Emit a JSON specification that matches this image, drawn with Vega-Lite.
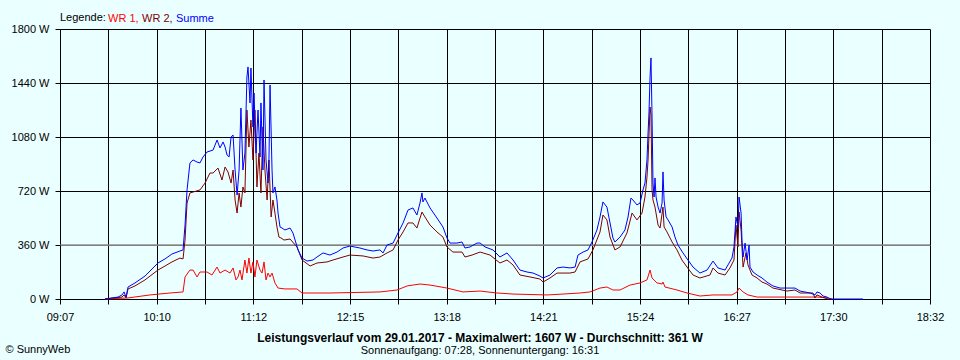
{
"$schema": "https://vega.github.io/schema/vega-lite/v6.json",
"width": 870, "height": 270,
"autosize": {"type": "none"},
"padding": {"left": 60, "top": 29, "right": 30, "bottom": 61},
"background": "#EAFFFF",
"config": {
  "font": "Liberation Sans",
  "view": {"stroke": null},
  "axis": {"labelFont": "Liberation Sans", "labelFontSize": 11, "labelColor": "black", "tickColor": "black", "domainColor": "black", "gridColor": "black", "gridOpacity": 1, "tickSize": 5, "grid": true, "domainWidth": 1, "gridWidth": 1, "tickWidth": 1}
},
"title": {"text": "Leistungsverlauf vom 29.01.2017 - Maximalwert: 1607 W - Durchschnitt: 361 W", "subtitle": "Sonnenaufgang: 07:28, Sonnenuntergang: 16:31", "orient": "bottom", "anchor": "middle", "frame": "group", "dx": -15, "offset": -21, "font": "Liberation Sans", "fontSize": 12, "fontWeight": "bold", "color": "black", "subtitleFont": "Liberation Sans", "subtitleFontSize": 11, "subtitleColor": "black", "subtitlePadding": 0},
"layer": [
{
 "data": {"values": [{"avg": 361}]},
 "mark": {"type": "rule", "color": "#808080", "strokeWidth": 1},
 "encoding": {
  "y": {"field": "avg", "type": "quantitative", "scale": {"domain": [0, 1800], "nice": false}, "axis": {"values": [0, 360, 720, 1080, 1440, 1800], "labelExpr": "datum.value + ' W'", "title": null, "labelPadding": 6, "gridColor": {"condition": {"test": "datum.value == 360", "value": "#808080"}, "value": "black"}}}
 }
},
{
 "data": {"values": [
{"t":576.2,"s":"WR 1","w":0},{"t":591.2,"s":"WR 1","w":7},{"t":605.4,"s":"WR 1","w":27},{"t":618.4,"s":"WR 1","w":40},{"t":626.9,"s":"WR 1","w":47},{"t":628.2,"s":"WR 1","w":147},{"t":631.4,"s":"WR 1","w":193},{"t":633.4,"s":"WR 1","w":193},{"t":636.0,"s":"WR 1","w":147},{"t":637.9,"s":"WR 1","w":180},{"t":642.5,"s":"WR 1","w":180},{"t":645.7,"s":"WR 1","w":160},{"t":649.0,"s":"WR 1","w":213},{"t":650.9,"s":"WR 1","w":173},{"t":654.2,"s":"WR 1","w":193},{"t":657.4,"s":"WR 1","w":173},{"t":659.4,"s":"WR 1","w":207},{"t":661.3,"s":"WR 1","w":127},{"t":662.6,"s":"WR 1","w":147},{"t":663.9,"s":"WR 1","w":193},{"t":665.2,"s":"WR 1","w":127},{"t":667.1,"s":"WR 1","w":260},{"t":668.4,"s":"WR 1","w":173},{"t":669.7,"s":"WR 1","w":273},{"t":671.0,"s":"WR 1","w":173},{"t":672.3,"s":"WR 1","w":247},{"t":673.6,"s":"WR 1","w":147},{"t":674.9,"s":"WR 1","w":260},{"t":676.9,"s":"WR 1","w":193},{"t":678.2,"s":"WR 1","w":173},{"t":679.5,"s":"WR 1","w":247},{"t":680.8,"s":"WR 1","w":127},{"t":682.1,"s":"WR 1","w":173},{"t":683.4,"s":"WR 1","w":147},{"t":684.7,"s":"WR 1","w":173},{"t":686.6,"s":"WR 1","w":107},{"t":688.6,"s":"WR 1","w":73},{"t":693.1,"s":"WR 1","w":67},{"t":700.9,"s":"WR 1","w":67},{"t":704.2,"s":"WR 1","w":40},{"t":722.3,"s":"WR 1","w":40},{"t":754.8,"s":"WR 1","w":47},{"t":765.9,"s":"WR 1","w":60},{"t":772.4,"s":"WR 1","w":87},{"t":780.8,"s":"WR 1","w":100},{"t":787.3,"s":"WR 1","w":93},{"t":798.3,"s":"WR 1","w":73},{"t":808.7,"s":"WR 1","w":47},{"t":819.8,"s":"WR 1","w":53},{"t":830.8,"s":"WR 1","w":40},{"t":841.2,"s":"WR 1","w":33},{"t":863.3,"s":"WR 1","w":27},{"t":873.7,"s":"WR 1","w":33},{"t":884.7,"s":"WR 1","w":40},{"t":891.2,"s":"WR 1","w":47},{"t":897.7,"s":"WR 1","w":73},{"t":902.2,"s":"WR 1","w":80},{"t":906.1,"s":"WR 1","w":60},{"t":910.7,"s":"WR 1","w":60},{"t":917.2,"s":"WR 1","w":93},{"t":923.7,"s":"WR 1","w":107},{"t":928.2,"s":"WR 1","w":127},{"t":930.2,"s":"WR 1","w":193},{"t":931.5,"s":"WR 1","w":140},{"t":934.7,"s":"WR 1","w":107},{"t":938.0,"s":"WR 1","w":100},{"t":938.6,"s":"WR 1","w":113},{"t":939.9,"s":"WR 1","w":80},{"t":947.7,"s":"WR 1","w":60},{"t":954.2,"s":"WR 1","w":40},{"t":962.6,"s":"WR 1","w":20},{"t":971.1,"s":"WR 1","w":27},{"t":983.4,"s":"WR 1","w":27},{"t":986.7,"s":"WR 1","w":47},{"t":988.0,"s":"WR 1","w":73},{"t":990.6,"s":"WR 1","w":47},{"t":993.8,"s":"WR 1","w":27},{"t":999.7,"s":"WR 1","w":13},{"t":1038.6,"s":"WR 1","w":13},{"t":1045.8,"s":"WR 1","w":7},{"t":1048.4,"s":"WR 1","w":0},
{"t":576.2,"s":"WR 2","w":0},{"t":587.3,"s":"WR 2","w":13},{"t":588.6,"s":"WR 2","w":27},{"t":589.9,"s":"WR 2","w":7},{"t":591.2,"s":"WR 2","w":67},{"t":595.7,"s":"WR 2","w":87},{"t":602.2,"s":"WR 2","w":127},{"t":610.6,"s":"WR 2","w":193},{"t":615.2,"s":"WR 2","w":220},{"t":619.7,"s":"WR 2","w":247},{"t":624.9,"s":"WR 2","w":273},{"t":626.9,"s":"WR 2","w":267},{"t":628.2,"s":"WR 2","w":393},{"t":629.5,"s":"WR 2","w":640},{"t":631.4,"s":"WR 2","w":707},{"t":633.4,"s":"WR 2","w":713},{"t":637.9,"s":"WR 2","w":727},{"t":641.2,"s":"WR 2","w":773},{"t":644.4,"s":"WR 2","w":840},{"t":646.4,"s":"WR 2","w":840},{"t":649.6,"s":"WR 2","w":873},{"t":652.2,"s":"WR 2","w":793},{"t":654.2,"s":"WR 2","w":880},{"t":656.1,"s":"WR 2","w":847},{"t":658.1,"s":"WR 2","w":773},{"t":659.4,"s":"WR 2","w":860},{"t":660.7,"s":"WR 2","w":660},{"t":662.0,"s":"WR 2","w":573},{"t":663.3,"s":"WR 2","w":707},{"t":664.5,"s":"WR 2","w":613},{"t":665.8,"s":"WR 2","w":747},{"t":667.1,"s":"WR 2","w":707},{"t":668.4,"s":"WR 2","w":1260},{"t":669.7,"s":"WR 2","w":1013},{"t":671.0,"s":"WR 2","w":1193},{"t":672.3,"s":"WR 2","w":927},{"t":673.6,"s":"WR 2","w":1260},{"t":674.9,"s":"WR 2","w":747},{"t":676.2,"s":"WR 2","w":973},{"t":677.5,"s":"WR 2","w":707},{"t":678.8,"s":"WR 2","w":1147},{"t":680.1,"s":"WR 2","w":860},{"t":681.5,"s":"WR 2","w":660},{"t":682.7,"s":"WR 2","w":927},{"t":684.1,"s":"WR 2","w":547},{"t":685.3,"s":"WR 2","w":660},{"t":686.6,"s":"WR 2","w":573},{"t":687.9,"s":"WR 2","w":480},{"t":689.2,"s":"WR 2","w":413},{"t":690.5,"s":"WR 2","w":407},{"t":692.5,"s":"WR 2","w":393},{"t":696.4,"s":"WR 2","w":400},{"t":700.9,"s":"WR 2","w":347},{"t":704.2,"s":"WR 2","w":260},{"t":709.4,"s":"WR 2","w":220},{"t":713.9,"s":"WR 2","w":240},{"t":720.4,"s":"WR 2","w":247},{"t":724.3,"s":"WR 2","w":260},{"t":730.8,"s":"WR 2","w":280},{"t":735.3,"s":"WR 2","w":293},{"t":743.8,"s":"WR 2","w":287},{"t":750.3,"s":"WR 2","w":273},{"t":754.8,"s":"WR 2","w":280},{"t":759.4,"s":"WR 2","w":307},{"t":763.3,"s":"WR 2","w":327},{"t":766.5,"s":"WR 2","w":393},{"t":769.8,"s":"WR 2","w":447},{"t":773.0,"s":"WR 2","w":507},{"t":776.2,"s":"WR 2","w":507},{"t":778.8,"s":"WR 2","w":473},{"t":780.8,"s":"WR 2","w":540},{"t":782.1,"s":"WR 2","w":580},{"t":784.0,"s":"WR 2","w":547},{"t":787.3,"s":"WR 2","w":493},{"t":791.8,"s":"WR 2","w":447},{"t":795.7,"s":"WR 2","w":413},{"t":798.3,"s":"WR 2","w":347},{"t":802.2,"s":"WR 2","w":313},{"t":808.1,"s":"WR 2","w":313},{"t":810.0,"s":"WR 2","w":280},{"t":814.6,"s":"WR 2","w":293},{"t":819.8,"s":"WR 2","w":313},{"t":826.3,"s":"WR 2","w":293},{"t":832.7,"s":"WR 2","w":240},{"t":837.3,"s":"WR 2","w":260},{"t":841.2,"s":"WR 2","w":227},{"t":845.7,"s":"WR 2","w":160},{"t":852.2,"s":"WR 2","w":147},{"t":858.7,"s":"WR 2","w":133},{"t":860.7,"s":"WR 2","w":113},{"t":865.2,"s":"WR 2","w":140},{"t":869.8,"s":"WR 2","w":173},{"t":878.2,"s":"WR 2","w":173},{"t":881.5,"s":"WR 2","w":180},{"t":884.7,"s":"WR 2","w":247},{"t":889.9,"s":"WR 2","w":267},{"t":893.1,"s":"WR 2","w":327},{"t":897.7,"s":"WR 2","w":447},{"t":899.6,"s":"WR 2","w":560},{"t":902.2,"s":"WR 2","w":527},{"t":904.2,"s":"WR 2","w":413},{"t":907.4,"s":"WR 2","w":327},{"t":910.7,"s":"WR 2","w":347},{"t":915.2,"s":"WR 2","w":440},{"t":918.5,"s":"WR 2","w":573},{"t":921.7,"s":"WR 2","w":527},{"t":925.0,"s":"WR 2","w":573},{"t":926.9,"s":"WR 2","w":680},{"t":928.2,"s":"WR 2","w":813},{"t":928.9,"s":"WR 2","w":927},{"t":930.2,"s":"WR 2","w":1280},{"t":930.8,"s":"WR 2","w":1227},{"t":931.5,"s":"WR 2","w":727},{"t":932.1,"s":"WR 2","w":660},{"t":933.4,"s":"WR 2","w":613},{"t":935.4,"s":"WR 2","w":493},{"t":936.7,"s":"WR 2","w":473},{"t":938.6,"s":"WR 2","w":613},{"t":939.3,"s":"WR 2","w":480},{"t":941.2,"s":"WR 2","w":447},{"t":944.5,"s":"WR 2","w":380},{"t":947.7,"s":"WR 2","w":327},{"t":950.9,"s":"WR 2","w":260},{"t":954.2,"s":"WR 2","w":213},{"t":958.1,"s":"WR 2","w":160},{"t":962.6,"s":"WR 2","w":140},{"t":969.1,"s":"WR 2","w":160},{"t":971.1,"s":"WR 2","w":207},{"t":974.3,"s":"WR 2","w":173},{"t":978.9,"s":"WR 2","w":160},{"t":982.1,"s":"WR 2","w":207},{"t":984.7,"s":"WR 2","w":260},{"t":986.0,"s":"WR 2","w":493},{"t":987.3,"s":"WR 2","w":347},{"t":988.0,"s":"WR 2","w":580},{"t":989.3,"s":"WR 2","w":460},{"t":990.6,"s":"WR 2","w":213},{"t":992.5,"s":"WR 2","w":307},{"t":993.8,"s":"WR 2","w":227},{"t":996.4,"s":"WR 2","w":160},{"t":999.7,"s":"WR 2","w":140},{"t":1002.9,"s":"WR 2","w":113},{"t":1006.1,"s":"WR 2","w":100},{"t":1010.0,"s":"WR 2","w":73},{"t":1019.1,"s":"WR 2","w":53},{"t":1024.3,"s":"WR 2","w":60},{"t":1027.6,"s":"WR 2","w":40},{"t":1036.0,"s":"WR 2","w":40},{"t":1037.3,"s":"WR 2","w":7},{"t":1038.6,"s":"WR 2","w":27},{"t":1041.9,"s":"WR 2","w":13},{"t":1045.8,"s":"WR 2","w":0},
{"t":576.2,"s":"Summe","w":0},{"t":584.7,"s":"Summe","w":13},{"t":587.3,"s":"Summe","w":27},{"t":588.6,"s":"Summe","w":47},{"t":589.9,"s":"Summe","w":13},{"t":591.2,"s":"Summe","w":80},{"t":595.7,"s":"Summe","w":107},{"t":602.2,"s":"Summe","w":153},{"t":610.6,"s":"Summe","w":240},{"t":615.2,"s":"Summe","w":267},{"t":619.7,"s":"Summe","w":300},{"t":624.9,"s":"Summe","w":320},{"t":626.9,"s":"Summe","w":327},{"t":628.2,"s":"Summe","w":493},{"t":629.5,"s":"Summe","w":727},{"t":631.4,"s":"Summe","w":907},{"t":633.4,"s":"Summe","w":927},{"t":636.0,"s":"Summe","w":913},{"t":637.9,"s":"Summe","w":907},{"t":639.9,"s":"Summe","w":947},{"t":642.5,"s":"Summe","w":980},{"t":646.4,"s":"Summe","w":993},{"t":649.0,"s":"Summe","w":1060},{"t":650.9,"s":"Summe","w":1007},{"t":652.9,"s":"Summe","w":1047},{"t":654.2,"s":"Summe","w":1013},{"t":655.5,"s":"Summe","w":960},{"t":656.8,"s":"Summe","w":947},{"t":658.1,"s":"Summe","w":1080},{"t":659.4,"s":"Summe","w":1093},{"t":660.7,"s":"Summe","w":860},{"t":662.0,"s":"Summe","w":693},{"t":663.3,"s":"Summe","w":860},{"t":664.5,"s":"Summe","w":1273},{"t":665.8,"s":"Summe","w":860},{"t":667.1,"s":"Summe","w":973},{"t":668.4,"s":"Summe","w":1480},{"t":669.1,"s":"Summe","w":1547},{"t":670.4,"s":"Summe","w":1307},{"t":671.0,"s":"Summe","w":1540},{"t":672.3,"s":"Summe","w":1147},{"t":673.0,"s":"Summe","w":1373},{"t":674.3,"s":"Summe","w":973},{"t":675.6,"s":"Summe","w":1260},{"t":676.9,"s":"Summe","w":947},{"t":677.5,"s":"Summe","w":1307},{"t":678.8,"s":"Summe","w":860},{"t":679.5,"s":"Summe","w":1460},{"t":680.8,"s":"Summe","w":927},{"t":682.1,"s":"Summe","w":773},{"t":682.7,"s":"Summe","w":927},{"t":683.4,"s":"Summe","w":1427},{"t":684.7,"s":"Summe","w":860},{"t":685.3,"s":"Summe","w":707},{"t":686.6,"s":"Summe","w":747},{"t":687.9,"s":"Summe","w":660},{"t":688.6,"s":"Summe","w":573},{"t":689.9,"s":"Summe","w":480},{"t":691.2,"s":"Summe","w":473},{"t":693.1,"s":"Summe","w":460},{"t":696.4,"s":"Summe","w":473},{"t":698.3,"s":"Summe","w":440},{"t":701.6,"s":"Summe","w":327},{"t":704.2,"s":"Summe","w":273},{"t":707.4,"s":"Summe","w":253},{"t":711.3,"s":"Summe","w":260},{"t":713.9,"s":"Summe","w":280},{"t":717.8,"s":"Summe","w":307},{"t":722.3,"s":"Summe","w":293},{"t":726.9,"s":"Summe","w":313},{"t":730.8,"s":"Summe","w":340},{"t":735.3,"s":"Summe","w":353},{"t":741.8,"s":"Summe","w":340},{"t":746.4,"s":"Summe","w":327},{"t":750.3,"s":"Summe","w":320},{"t":754.8,"s":"Summe","w":327},{"t":756.8,"s":"Summe","w":307},{"t":759.4,"s":"Summe","w":360},{"t":763.3,"s":"Summe","w":373},{"t":766.5,"s":"Summe","w":440},{"t":769.8,"s":"Summe","w":507},{"t":773.0,"s":"Summe","w":593},{"t":776.2,"s":"Summe","w":607},{"t":778.8,"s":"Summe","w":560},{"t":780.8,"s":"Summe","w":640},{"t":782.1,"s":"Summe","w":707},{"t":782.7,"s":"Summe","w":647},{"t":784.0,"s":"Summe","w":673},{"t":787.3,"s":"Summe","w":607},{"t":791.8,"s":"Summe","w":540},{"t":795.7,"s":"Summe","w":480},{"t":798.3,"s":"Summe","w":407},{"t":800.3,"s":"Summe","w":373},{"t":804.8,"s":"Summe","w":373},{"t":808.1,"s":"Summe","w":380},{"t":810.0,"s":"Summe","w":340},{"t":813.3,"s":"Summe","w":347},{"t":817.8,"s":"Summe","w":373},{"t":819.8,"s":"Summe","w":373},{"t":823.0,"s":"Summe","w":347},{"t":828.2,"s":"Summe","w":327},{"t":832.7,"s":"Summe","w":280},{"t":837.3,"s":"Summe","w":307},{"t":841.2,"s":"Summe","w":260},{"t":845.7,"s":"Summe","w":193},{"t":850.3,"s":"Summe","w":180},{"t":854.2,"s":"Summe","w":173},{"t":858.7,"s":"Summe","w":153},{"t":860.7,"s":"Summe","w":140},{"t":865.2,"s":"Summe","w":160},{"t":869.8,"s":"Summe","w":207},{"t":873.7,"s":"Summe","w":213},{"t":878.2,"s":"Summe","w":207},{"t":881.5,"s":"Summe","w":213},{"t":883.4,"s":"Summe","w":293},{"t":886.7,"s":"Summe","w":313},{"t":889.9,"s":"Summe","w":327},{"t":892.5,"s":"Summe","w":380},{"t":895.7,"s":"Summe","w":460},{"t":897.7,"s":"Summe","w":547},{"t":899.6,"s":"Summe","w":647},{"t":902.2,"s":"Summe","w":613},{"t":904.2,"s":"Summe","w":507},{"t":906.1,"s":"Summe","w":407},{"t":907.4,"s":"Summe","w":380},{"t":910.7,"s":"Summe","w":413},{"t":913.9,"s":"Summe","w":460},{"t":915.9,"s":"Summe","w":547},{"t":917.8,"s":"Summe","w":673},{"t":919.1,"s":"Summe","w":660},{"t":921.7,"s":"Summe","w":627},{"t":923.7,"s":"Summe","w":640},{"t":925.6,"s":"Summe","w":727},{"t":926.9,"s":"Summe","w":773},{"t":928.2,"s":"Summe","w":927},{"t":928.9,"s":"Summe","w":1107},{"t":929.5,"s":"Summe","w":1240},{"t":930.2,"s":"Summe","w":1480},{"t":930.8,"s":"Summe","w":1607},{"t":931.5,"s":"Summe","w":1213},{"t":932.1,"s":"Summe","w":773},{"t":932.8,"s":"Summe","w":680},{"t":933.4,"s":"Summe","w":807},{"t":934.1,"s":"Summe","w":680},{"t":935.4,"s":"Summe","w":613},{"t":936.7,"s":"Summe","w":573},{"t":938.0,"s":"Summe","w":640},{"t":938.6,"s":"Summe","w":847},{"t":939.3,"s":"Summe","w":660},{"t":940.6,"s":"Summe","w":547},{"t":941.9,"s":"Summe","w":527},{"t":944.5,"s":"Summe","w":480},{"t":946.4,"s":"Summe","w":413},{"t":948.3,"s":"Summe","w":360},{"t":951.6,"s":"Summe","w":307},{"t":954.8,"s":"Summe","w":260},{"t":958.1,"s":"Summe","w":213},{"t":962.6,"s":"Summe","w":173},{"t":967.2,"s":"Summe","w":193},{"t":971.1,"s":"Summe","w":253},{"t":974.3,"s":"Summe","w":207},{"t":978.9,"s":"Summe","w":193},{"t":980.8,"s":"Summe","w":227},{"t":983.4,"s":"Summe","w":273},{"t":984.7,"s":"Summe","w":347},{"t":986.0,"s":"Summe","w":547},{"t":987.3,"s":"Summe","w":480},{"t":988.0,"s":"Summe","w":680},{"t":989.3,"s":"Summe","w":573},{"t":989.9,"s":"Summe","w":393},{"t":990.6,"s":"Summe","w":280},{"t":991.9,"s":"Summe","w":373},{"t":993.2,"s":"Summe","w":260},{"t":994.5,"s":"Summe","w":360},{"t":995.1,"s":"Summe","w":213},{"t":997.1,"s":"Summe","w":180},{"t":999.7,"s":"Summe","w":160},{"t":1002.9,"s":"Summe","w":140},{"t":1006.1,"s":"Summe","w":113},{"t":1010.0,"s":"Summe","w":87},{"t":1014.6,"s":"Summe","w":73},{"t":1019.1,"s":"Summe","w":73},{"t":1024.3,"s":"Summe","w":73},{"t":1027.6,"s":"Summe","w":53},{"t":1034.1,"s":"Summe","w":40},{"t":1037.3,"s":"Summe","w":27},{"t":1038.6,"s":"Summe","w":47},{"t":1040.6,"s":"Summe","w":40},{"t":1042.5,"s":"Summe","w":20},{"t":1045.1,"s":"Summe","w":13},{"t":1047.1,"s":"Summe","w":0},{"t":1068.5,"s":"Summe","w":0}
 ]},
 "mark": {"type": "line", "strokeWidth": 1, "interpolate": "linear"},
 "encoding": {
  "x": {"field": "t", "type": "quantitative", "scale": {"domain": [547, 1112], "nice": false, "zero": false},
        "axis": {"values": [547,578.3889,609.7778,641.1667,672.5556,703.9444,735.3333,766.7222,798.1111,829.5,860.8889,892.2778,923.6667,955.0556,986.4444,1017.8333,1049.2222,1080.6111,1112],
                 "labelExpr": "['09:07','','10:10','','11:12','','12:15','','13:18','','14:21','','15:24','','16:27','','17:30','','18:32'][round((datum.value-547)/31.38889)]",
                 "labelOverlap": false, "labelFlush": false, "labelPadding": 7,
                 "title": "© SunnyWeb", "titleAnchor": "start", "titleAlign": "left", "titleBaseline": "middle", "titleX": -55, "titleY": 50, "titleFontWeight": "normal", "titleFontSize": 11, "titleColor": "black", "titleFont": "Liberation Sans"}},
  "y": {"field": "w", "type": "quantitative", "scale": {"domain": [0, 1800], "nice": false}, "axis": {"values": [0, 360, 720, 1080, 1440, 1800], "labelExpr": "datum.value + ' W'", "title": null, "labelPadding": 6, "gridColor": {"condition": {"test": "datum.value == 360", "value": "#808080"}, "value": "black"}}},
  "color": {"field": "s", "type": "nominal", "sort": ["WR 1", "WR 2", "Summe"], "scale": {"domain": ["WR 1", "WR 2", "Summe"], "range": ["#FF0000", "#800000", "#0000FF"]},
            "legend": {"title": "Legende:", "orient": "top", "direction": "horizontal", "titleOrient": "left", "titleFontWeight": "normal", "titleFontSize": 11, "titleColor": "black", "titleFont": "Liberation Sans", "titlePadding": 3, "labelFont": "Liberation Sans", "labelFontSize": 11, "labelExpr": "datum.label == 'Summe' ? datum.label : datum.label + ','", "symbolSize": 0.01, "symbolStrokeWidth": 0, "symbolOpacity": 0, "labelOffset": -12, "columnPadding": 3, "padding": 0, "offset": 5,
                       "encode": {"labels": {"update": {"fill": {"scale": "color", "field": "value"}}}, "symbols": {"update": {"size": {"value": 0}}}}}}
 }
}
]
}
